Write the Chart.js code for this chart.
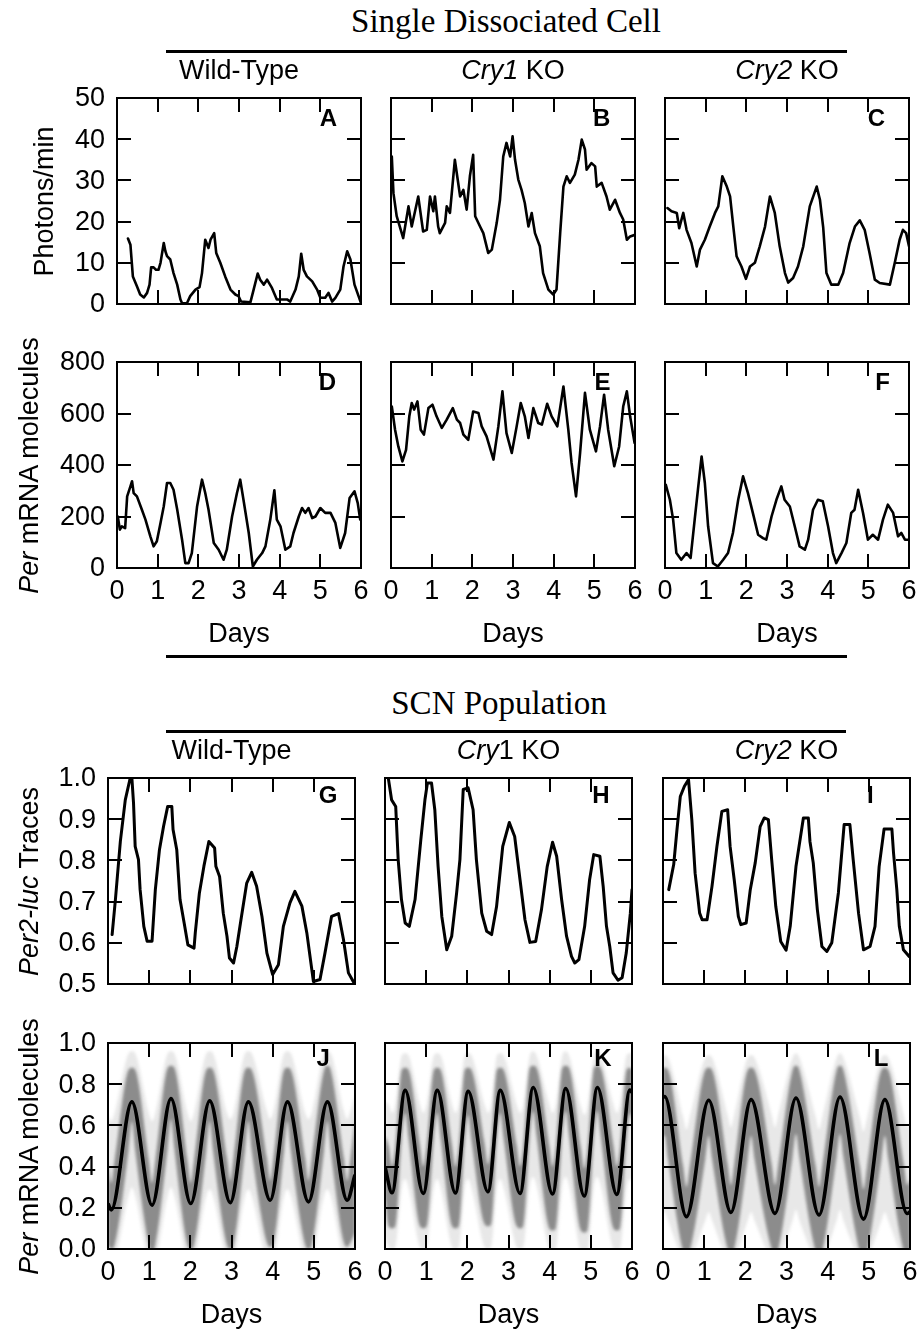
<!DOCTYPE html>
<html><head><meta charset="utf-8">
<script src="https://cdn.jsdelivr.net/npm/chart.js@4.4.1/dist/chart.umd.min.js"></script>
<style>
html,body{margin:0;padding:0;background:#fff;}
#fig{position:relative;width:919px;height:1332px;overflow:hidden;background:#fff;color:#000;}
#fig canvas{position:absolute;}
.t{position:absolute;white-space:nowrap;text-align:center;width:400px;color:#000;}
.rule{position:absolute;height:3px;background:#000;}
</style></head><body><div id="fig"></div>
<script>
// ---------------- DATA ----------------
const dayTicks = [0,1,2,3,4,5,6];
const photonTicks = [0,10,20,30,40,50];
const mrnaTicks = [0,200,400,600,800];
const lucTicks = [0.5,0.6,0.7,0.8,0.9,1.0];
const popTicks = [0.0,0.2,0.4,0.6,0.8,1.0];

// A: single cell, wild-type, photons/min
const cellWT_day = [0.27,0.33,0.39,0.49,0.57,0.66,0.74,0.80,0.84,0.90,0.96,1.02,1.07,1.15,1.19,1.23,1.31,1.39,1.48,1.56,1.60,1.72,1.80,1.93,2.03,2.09,2.17,2.25,2.30,2.39,2.44,2.54,2.66,2.79,2.91,2.99,3.05,3.28,3.36,3.46,3.52,3.61,3.69,3.81,3.93,4.18,4.26,4.39,4.47,4.53,4.59,4.67,4.80,4.92,5.00,5.12,5.20,5.29,5.37,5.49,5.57,5.66,5.74,5.84,5.94,6.0];
const cellWT_photons = [15.9,14.4,6.7,4.3,2.3,1.6,2.7,4.7,8.9,8.9,8.3,8.3,10.0,14.8,12.8,11.6,10.8,7.5,4.7,1.1,0.2,0.2,1.9,3.5,4.1,7.5,15.6,13.6,15.6,17.2,12.4,10.0,6.7,3.5,2.3,1.9,0.6,0.4,3.5,7.4,5.9,4.7,5.9,3.9,1.1,1.1,0.6,3.5,6.7,12.2,8.3,6.7,5.5,3.5,1.5,1.5,2.7,0.6,1.5,3.5,9.1,12.8,10.8,4.7,1.9,0.2];

// B: single cell, Cry1 KO
const cellCry1_day = [0.02,0.06,0.14,0.30,0.43,0.51,0.67,0.79,0.88,0.96,1.04,1.08,1.16,1.20,1.33,1.37,1.45,1.57,1.70,1.78,1.86,1.94,2.02,2.07,2.19,2.27,2.39,2.48,2.60,2.68,2.76,2.84,2.93,2.99,3.05,3.13,3.21,3.29,3.38,3.46,3.54,3.66,3.74,3.87,3.99,4.07,4.16,4.24,4.32,4.40,4.52,4.61,4.69,4.77,4.81,4.93,5.02,5.06,5.18,5.30,5.38,5.51,5.63,5.71,5.80,5.88,6.0];
const cellCry1_photons = [35.8,26.9,21.3,16.0,23.7,18.8,26.1,17.6,18.0,26.1,22.5,26.1,18.8,17.2,19.7,23.7,22.1,35.0,26.1,27.7,22.9,31.0,36.2,21.3,18.8,17.2,12.4,13.2,19.7,25.3,35.8,39.1,35.8,40.7,35.0,30.2,27.7,24.5,18.8,22.1,17.2,14.0,7.5,3.5,2.3,3.5,17.2,28.5,31.0,29.4,31.4,35.0,39.9,37.5,32.6,34.2,33.4,28.5,29.4,26.1,22.9,25.3,22.1,20.5,15.6,16.4,16.8];

// C: single cell, Cry2 KO
const cellCry2_day = [0.06,0.16,0.29,0.35,0.45,0.53,0.65,0.78,0.86,0.98,1.10,1.23,1.31,1.41,1.52,1.60,1.68,1.76,1.88,1.99,2.09,2.21,2.33,2.46,2.58,2.70,2.82,2.95,3.03,3.15,3.27,3.40,3.56,3.73,3.81,3.89,3.97,4.09,4.26,4.38,4.54,4.67,4.79,4.91,5.03,5.16,5.28,5.53,5.65,5.77,5.85,5.93,6.0];
const cellCry2_photons = [23.3,22.5,22.1,18.4,22.1,18.0,14.8,9.1,13.2,15.6,18.8,22.1,23.7,31.0,28.5,26.1,18.8,11.6,9.1,6.1,9.1,10.0,14.0,18.8,26.1,22.1,14.0,7.5,5.2,6.3,9.1,14.0,23.7,28.5,25.3,18.6,7.5,4.7,4.7,7.5,14.8,18.8,20.3,18.0,12.4,5.9,5.1,4.7,10.0,15.6,18.0,17.2,14.0];

// D: single cell model, wild-type, Per mRNA molecules
const modelWT_day = [0.02,0.07,0.12,0.20,0.25,0.33,0.37,0.41,0.49,0.61,0.70,0.82,0.90,0.98,1.07,1.15,1.23,1.31,1.39,1.48,1.60,1.68,1.76,1.84,1.97,2.09,2.17,2.25,2.38,2.50,2.62,2.70,2.83,2.95,3.03,3.11,3.24,3.34,3.44,3.57,3.65,3.77,3.87,3.93,4.02,4.14,4.26,4.34,4.47,4.55,4.63,4.71,4.80,4.88,5.00,5.12,5.25,5.37,5.49,5.61,5.72,5.84,5.92,5.98];
const modelWT_per = [200,149,162,155,278,317,337,291,278,227,188,123,84,104,175,240,330,330,304,227,110,19,19,58,240,343,291,227,97,71,32,71,200,291,343,265,136,6,32,58,84,188,302,188,162,71,84,136,200,233,214,233,194,200,233,214,214,175,78,136,272,298,252,188];

// E: single cell model, Cry1 KO
const modelCry1_day = [0.02,0.10,0.18,0.28,0.37,0.45,0.51,0.57,0.65,0.73,0.81,0.92,1.02,1.12,1.25,1.37,1.52,1.62,1.70,1.78,1.90,2.02,2.15,2.23,2.35,2.52,2.64,2.74,2.84,2.97,3.09,3.19,3.29,3.38,3.50,3.62,3.71,3.84,3.95,4.09,4.24,4.36,4.44,4.55,4.65,4.77,4.89,5.04,5.14,5.24,5.34,5.49,5.61,5.71,5.80,5.88,5.99];
const modelCry1_per = [627,537,472,414,459,589,641,615,647,537,518,621,634,589,544,576,621,576,563,518,498,608,602,550,511,421,550,686,524,447,550,641,589,505,621,563,557,638,589,550,705,537,408,278,447,680,537,453,550,673,537,395,472,627,686,589,485];

// F: single cell model, Cry2 KO
const modelCry2_day = [0.02,0.12,0.20,0.28,0.40,0.53,0.63,0.73,0.81,0.90,0.98,1.06,1.18,1.30,1.43,1.55,1.67,1.80,1.92,2.04,2.16,2.29,2.41,2.49,2.62,2.74,2.86,2.94,3.07,3.19,3.31,3.44,3.52,3.64,3.76,3.88,4.01,4.13,4.21,4.34,4.46,4.58,4.66,4.75,4.87,4.99,5.11,5.24,5.36,5.48,5.61,5.73,5.81,5.90,5.98];
const modelCry2_per = [323,265,188,58,32,58,39,188,304,433,330,162,19,6,32,58,136,265,356,291,214,129,116,110,200,265,317,265,239,162,84,71,110,226,265,259,162,58,19,58,97,214,226,304,214,110,129,110,188,246,214,123,136,110,110];

// G: SCN population Per2-luc, wild-type
const scnWT_day = [0.10,0.18,0.30,0.42,0.54,0.58,0.62,0.66,0.74,0.78,0.87,0.95,1.07,1.15,1.25,1.35,1.45,1.55,1.58,1.67,1.75,1.85,1.94,2.09,2.12,2.22,2.33,2.45,2.59,2.62,2.71,2.80,2.89,2.95,3.05,3.13,3.23,3.37,3.49,3.61,3.74,3.86,4.00,4.14,4.26,4.42,4.54,4.71,4.83,4.99,5.15,5.27,5.43,5.60,5.72,5.84,5.98];
const scnWT_luc = [0.620,0.705,0.846,0.947,1.0,1.0,0.939,0.834,0.802,0.729,0.640,0.604,0.604,0.729,0.826,0.883,0.931,0.931,0.875,0.826,0.705,0.648,0.595,0.587,0.624,0.721,0.786,0.846,0.830,0.786,0.761,0.672,0.616,0.563,0.551,0.591,0.656,0.745,0.771,0.737,0.664,0.575,0.523,0.547,0.640,0.697,0.725,0.689,0.624,0.506,0.511,0.575,0.664,0.671,0.608,0.527,0.502];

// H: SCN population Per2-luc, Cry1 KO
const scnCry1_day = [0.08,0.16,0.26,0.32,0.40,0.49,0.59,0.73,0.87,0.97,1.03,1.13,1.21,1.29,1.38,1.50,1.62,1.74,1.82,1.90,2.02,2.14,2.22,2.35,2.47,2.59,2.71,2.86,3.02,3.15,3.28,3.40,3.52,3.66,3.80,3.94,4.07,4.17,4.29,4.41,4.53,4.61,4.71,4.85,4.97,5.07,5.22,5.30,5.38,5.46,5.54,5.66,5.76,5.86,5.96,6.0];
const scnCry1_luc = [1.0,0.947,0.931,0.802,0.705,0.648,0.640,0.705,0.850,0.947,0.988,0.988,0.923,0.785,0.664,0.583,0.616,0.721,0.802,0.972,0.976,0.923,0.802,0.672,0.628,0.620,0.688,0.834,0.892,0.858,0.753,0.656,0.601,0.603,0.680,0.785,0.844,0.810,0.705,0.616,0.567,0.551,0.559,0.640,0.753,0.814,0.810,0.737,0.640,0.591,0.527,0.509,0.515,0.575,0.672,0.729];

// I: SCN population Per2-luc, Cry2 KO
const scnCry2_day = [0.14,0.26,0.34,0.42,0.52,0.62,0.70,0.78,0.89,0.95,1.07,1.19,1.31,1.43,1.57,1.63,1.73,1.83,1.89,2.02,2.12,2.24,2.36,2.46,2.56,2.64,2.74,2.86,2.99,3.09,3.23,3.41,3.53,3.57,3.65,3.75,3.86,3.98,4.10,4.26,4.40,4.54,4.62,4.75,4.87,5.03,5.15,5.25,5.37,5.56,5.60,5.68,5.74,5.84,5.98];
const scnCry2_luc = [0.729,0.790,0.875,0.955,0.980,0.996,0.899,0.769,0.672,0.656,0.656,0.737,0.834,0.919,0.923,0.834,0.753,0.664,0.644,0.648,0.729,0.794,0.882,0.903,0.899,0.802,0.688,0.603,0.582,0.640,0.785,0.903,0.903,0.846,0.794,0.680,0.591,0.579,0.600,0.721,0.887,0.887,0.802,0.672,0.583,0.591,0.640,0.785,0.876,0.876,0.818,0.729,0.640,0.583,0.567];

// J: SCN model, wild-type. Population mean (black line) ...
const popWT_day    = [0,0.08,0.58,1.07,1.53,2.01,2.47,2.97,3.41,3.94,4.36,4.87,5.33,5.81,6.0];
const popWT_mean   = [0.22,0.19,0.714,0.213,0.73,0.221,0.719,0.225,0.714,0.237,0.714,0.229,0.714,0.237,0.36];
// ... and read-off upper/lower edges of the grey cloud of single-cell traces (dense core, faint haze)
const popWT_bandDay = [0,0.08,0.16, 0.50,0.58,0.66, 0.99,1.07,1.15, 1.45,1.53,1.61, 1.93,2.01,2.09, 2.39,2.47,2.55, 2.89,2.97,3.05, 3.33,3.41,3.49, 3.86,3.94,4.02, 4.28,4.36,4.44, 4.79,4.87,4.95, 5.25,5.33,5.41, 5.73,5.81,5.89, 6.0];
const popWT_coreHi = [0.43,0.32,0.43, 0.87,0.88,0.87, 0.43,0.32,0.43, 0.88,0.89,0.88, 0.43,0.32,0.43, 0.87,0.88,0.87, 0.44,0.33,0.44, 0.87,0.88,0.87, 0.44,0.33,0.44, 0.87,0.88,0.87, 0.44,0.33,0.44, 0.87,0.89,0.87, 0.44,0.33,0.44, 0.64];
const popWT_coreLo = [0.02,0.00,0.02, 0.48,0.62,0.48, 0.02,-0.01,0.02, 0.49,0.63,0.49, 0.02,0.00,0.02, 0.48,0.62,0.48, 0.02,0.00,0.02, 0.48,0.62,0.48, 0.03,0.01,0.03, 0.48,0.62,0.48, 0.02,0.00,0.02, 0.48,0.62,0.48, 0.03,0.01,0.03, 0.08];
const popWT_hazeHi = [0.65,0.62,0.66, 0.95,0.96,0.95, 0.66,0.62,0.66, 0.95,0.96,0.95, 0.66,0.62,0.66, 0.95,0.96,0.95, 0.66,0.63,0.66, 0.95,0.96,0.95, 0.67,0.63,0.67, 0.95,0.96,0.95, 0.66,0.63,0.66, 0.95,0.96,0.95, 0.67,0.63,0.67, 0.75];
const popWT_hazeLo = [-0.05,-0.06,-0.05, 0.26,0.30,0.26, -0.05,-0.06,-0.05, 0.26,0.30,0.26, -0.05,-0.06,-0.05, 0.26,0.29,0.26, -0.05,-0.06,-0.05, 0.26,0.29,0.26, -0.05,-0.06,-0.05, 0.26,0.29,0.26, -0.05,-0.06,-0.05, 0.26,0.29,0.26, -0.05,-0.06,-0.05, 0.02];

// K: SCN model, Cry1 KO
const popCry1_day    = [0,0.17,0.49,0.93,1.27,1.71,2.02,2.50,2.80,3.28,3.60,4.07,4.39,4.84,5.16,5.63,5.95,6.0];
const popCry1_mean   = [0.40,0.273,0.77,0.27,0.77,0.272,0.765,0.278,0.77,0.27,0.784,0.267,0.779,0.257,0.784,0.265,0.772,0.76];
const popCry1_bandDay = [0, 0.09,0.17,0.25, 0.41,0.49,0.57, 0.85,0.93,1.01, 1.19,1.27,1.35, 1.63,1.71,1.79, 1.94,2.02,2.10, 2.42,2.50,2.58, 2.72,2.80,2.88, 3.20,3.28,3.36, 3.52,3.60,3.68, 3.99,4.07,4.15, 4.31,4.39,4.47, 4.76,4.84,4.92, 5.08,5.16,5.24, 5.55,5.63,5.71, 5.87,5.95, 6.0];
const popCry1_coreHi = [0.55, 0.50,0.40,0.50, 0.87,0.88,0.87, 0.50,0.40,0.50, 0.87,0.88,0.87, 0.50,0.40,0.50, 0.87,0.88,0.87, 0.51,0.41,0.51, 0.87,0.88,0.87, 0.50,0.40,0.50, 0.88,0.89,0.88, 0.50,0.40,0.50, 0.88,0.89,0.88, 0.49,0.39,0.49, 0.88,0.89,0.88, 0.50,0.40,0.50, 0.87,0.88, 0.87];
const popCry1_coreLo = [0.25, 0.11,0.10,0.11, 0.54,0.66,0.54, 0.11,0.10,0.11, 0.54,0.66,0.54, 0.11,0.10,0.11, 0.53,0.65,0.53, 0.12,0.11,0.12, 0.54,0.66,0.54, 0.11,0.10,0.11, 0.55,0.67,0.55, 0.10,0.09,0.10, 0.55,0.67,0.55, 0.09,0.08,0.09, 0.55,0.67,0.55, 0.10,0.09,0.10, 0.54,0.66, 0.62];
const popCry1_hazeHi = [0.72, 0.70,0.66,0.70, 0.94,0.95,0.94, 0.70,0.66,0.70, 0.94,0.95,0.94, 0.70,0.66,0.70, 0.94,0.95,0.94, 0.70,0.66,0.70, 0.94,0.95,0.94, 0.70,0.66,0.70, 0.94,0.96,0.94, 0.70,0.66,0.70, 0.94,0.96,0.94, 0.69,0.65,0.69, 0.94,0.96,0.94, 0.70,0.66,0.70, 0.94,0.95, 0.95];
const popCry1_hazeLo = [0.06, 0.01,0.00,0.01, 0.30,0.34,0.30, 0.01,0.00,0.01, 0.30,0.34,0.30, 0.01,0.00,0.01, 0.30,0.34,0.30, 0.01,0.00,0.01, 0.30,0.34,0.30, 0.01,0.00,0.01, 0.31,0.35,0.31, 0.00,-0.01,0.00, 0.31,0.35,0.31, -0.01,-0.02,-0.01, 0.31,0.35,0.31, 0.00,-0.01,0.00, 0.30,0.34, 0.33];

// L: SCN model, Cry2 KO
const popCry2_day    = [0,0.04,0.57,1.11,1.65,2.14,2.72,3.23,3.79,4.30,4.87,5.39,5.93,6.0];
const popCry2_mean   = [0.735,0.74,0.157,0.722,0.178,0.725,0.173,0.733,0.165,0.738,0.145,0.725,0.172,0.18];
const popCry2_bandDay = [0,0.04,0.12, 0.49,0.57,0.65, 1.03,1.11,1.19, 1.57,1.65,1.73, 2.06,2.14,2.22, 2.64,2.72,2.80, 3.15,3.23,3.31, 3.71,3.79,3.87, 4.22,4.30,4.38, 4.79,4.87,4.95, 5.31,5.39,5.47, 5.85,5.93, 6.0];
const popCry2_coreHi = [0.88,0.88,0.87, 0.40,0.30,0.40, 0.87,0.88,0.87, 0.41,0.31,0.41, 0.87,0.88,0.87, 0.41,0.31,0.41, 0.87,0.89,0.87, 0.40,0.30,0.40, 0.87,0.89,0.87, 0.39,0.29,0.39, 0.87,0.88,0.87, 0.41,0.31, 0.34];
const popCry2_coreLo = [0.55,0.55,0.44, -0.01,-0.03,-0.01, 0.44,0.55,0.44, 0.00,-0.02,0.00, 0.44,0.55,0.44, 0.00,-0.02,0.00, 0.45,0.56,0.45, -0.01,-0.03,-0.01, 0.45,0.56,0.45, -0.02,-0.04,-0.02, 0.44,0.55,0.44, -0.01,-0.03, -0.01];
const popCry2_hazeHi = [0.94,0.94,0.93, 0.64,0.58,0.64, 0.93,0.94,0.93, 0.65,0.59,0.65, 0.93,0.94,0.93, 0.65,0.59,0.65, 0.93,0.95,0.93, 0.64,0.58,0.64, 0.93,0.95,0.93, 0.63,0.57,0.63, 0.93,0.94,0.93, 0.65,0.59, 0.61];
const popCry2_hazeLo = [0.18,0.18,0.14, -0.05,-0.06,-0.05, 0.14,0.18,0.14, -0.05,-0.06,-0.05, 0.14,0.18,0.14, -0.05,-0.06,-0.05, 0.14,0.19,0.14, -0.05,-0.06,-0.05, 0.14,0.19,0.14, -0.05,-0.06,-0.05, 0.14,0.18,0.14, -0.05,-0.06, -0.05];

// ---------------- RENDERING ----------------
const fig = document.getElementById('fig');
const SANS = '"Liberation Sans", Arial, Helvetica, sans-serif';
const SERIF = '"Liberation Serif", "Times New Roman", serif';

function addText(html, cx, baseline, size, opts) {
  opts = opts || {};
  const d = document.createElement('div');
  d.className = 't';
  const asc = opts.serif ? 0.8375 : 0.8465;
  d.style.fontFamily = opts.serif ? SERIF : SANS;
  d.style.fontSize = size + 'px';
  d.style.fontWeight = opts.bold ? 'bold' : 'normal';
  d.style.lineHeight = size + 'px';
  d.style.left = (cx - 200) + 'px';
  d.style.top = (baseline - asc * size) + 'px';
  d.innerHTML = html;
  fig.appendChild(d);
}
function addVText(html, cx, cy, size) {
  const d = document.createElement('div');
  d.className = 't';
  d.style.fontFamily = SANS;
  d.style.fontSize = size + 'px';
  d.style.lineHeight = size + 'px';
  d.style.height = size + 'px';
  d.style.left = (cx - 200) + 'px';
  d.style.top = (cy - size / 2) + 'px';
  d.style.transform = 'rotate(-90deg)';
  d.innerHTML = html;
  fig.appendChild(d);
}
function addRule(x1, x2, y) {
  const d = document.createElement('div');
  d.className = 'rule';
  d.style.left = x1 + 'px';
  d.style.width = (x2 - x1) + 'px';
  d.style.top = y + 'px';
  fig.appendChild(d);
}

// frame, inward tick marks on all four sides and y tick labels, placed through the chart's scales
const frameTicks = {
  id: 'frameTicks',
  afterDraw(chart, args, opts) {
    const {ctx, chartArea: a} = chart;
    const x = chart.scales.x, y = chart.scales.y;
    ctx.save();
    ctx.filter = 'none';
    ctx.strokeStyle = '#000';
    ctx.lineWidth = 2;
    ctx.beginPath();
    x.ticks.forEach(t => {
      const px = Math.round(x.getPixelForValue(t.value));
      ctx.moveTo(px, a.top); ctx.lineTo(px, a.top + 14);
      ctx.moveTo(px, a.bottom); ctx.lineTo(px, a.bottom - 14);
    });
    y.ticks.forEach(t => {
      const py = Math.round(y.getPixelForValue(t.value));
      ctx.moveTo(a.left, py); ctx.lineTo(a.left + 14, py);
      ctx.moveTo(a.right, py); ctx.lineTo(a.right - 14, py);
    });
    ctx.stroke();
    ctx.strokeRect(a.left, a.top, a.right - a.left, a.bottom - a.top);
    if (opts.yLabels) {
      ctx.fillStyle = '#000';
      ctx.font = '27px ' + SANS;
      ctx.textAlign = 'right';
      ctx.textBaseline = 'middle';
      y.ticks.forEach(t => {
        const txt = opts.fmt ? Number(t.value).toFixed(opts.fmt) : String(Math.round(t.value));
        ctx.fillText(txt, a.left - 12, y.getPixelForValue(t.value) + 1);
      });
    }
    ctx.restore();
  }
};
// soft edges for the grey cloud (not applied to the mean line, dataset 0)
const softBands = {
  id: 'softBands',
  beforeDatasetsDraw(chart, args, opts) { if (opts.on) chart.ctx.filter = 'blur(1.5px)'; },
  beforeDatasetDraw(chart, args) { if (args.index === 0) chart.ctx.filter = 'none'; },
  afterDatasetsDraw(chart) { chart.ctx.filter = 'none'; }
};

const tickFont = {family: SANS, size: 27};
function pts(xs, ys) { const n = Math.min(xs.length, ys.length); const o = []; for (let i = 0; i < n; i++) o.push({x: xs[i], y: ys[i]}); return o; }
function traceDS(xs, ys, w) {
  return {data: pts(xs, ys), borderColor: '#000', borderWidth: w, pointRadius: 0, tension: 0, fill: false, borderJoinStyle: 'round', borderCapStyle: 'round'};
}
function meanDS(xs, ys) {
  return {data: pts(xs, ys), borderColor: '#000', borderWidth: 3.6, pointRadius: 0, cubicInterpolationMode: 'monotone', fill: false};
}
function bandDS(xs, ys, color, fill) {
  return {data: pts(xs, ys), borderWidth: 0, borderColor: 'rgba(0,0,0,0)', backgroundColor: color, pointRadius: 0, cubicInterpolationMode: 'monotone', fill: fill};
}
function popDatasets(xs, mean, bx, cHi, cLo, hHi, hLo) {
  return [
    meanDS(xs, mean),
    bandDS(bx, cHi, 'rgba(128,128,128,0.88)', '+1'),
    bandDS(bx, cLo, 'rgba(0,0,0,0)', false),
    bandDS(bx, hHi, 'rgba(150,150,150,0.22)', '+1'),
    bandDS(bx, hLo, 'rgba(0,0,0,0)', false)
  ];
}

function makePanel(p) {
  const ML = 70, MR = 20, MT = 20, MB = 50;
  const W = p.w + ML + MR, H = p.h + MT + MB;
  const c = document.createElement('canvas');
  c.width = W; c.height = H;
  c.style.left = (p.left - ML) + 'px';
  c.style.top = (p.top - MT) + 'px';
  c.style.width = W + 'px'; c.style.height = H + 'px';
  fig.appendChild(c);
  new Chart(c, {
    type: 'line',
    data: {datasets: p.datasets},
    options: {
      responsive: false, animation: false, devicePixelRatio: 1,
      layout: {padding: {left: 0, right: MR, top: MT, bottom: 0}},
      plugins: {legend: {display: false}, tooltip: {enabled: false},
                frameTicks: {yLabels: p.yLabels, fmt: p.fmt}, softBands: {on: !!p.soft}},
      scales: {
        x: {type: 'linear', min: 0, max: 6,
            afterBuildTicks: s => { s.ticks = dayTicks.map(v => ({value: v})); },
            ticks: {display: p.xLabels, padding: 7, autoSkip: false, maxRotation: 0, font: tickFont, color: '#000'},
            grid: {display: false, drawTicks: false}, border: {display: false},
            afterFit: s => { s.height = MB; }},
        y: {type: 'linear', min: p.yTicks[0], max: p.yTicks[p.yTicks.length - 1],
            afterBuildTicks: s => { s.ticks = p.yTicks.map(v => ({value: v})); },
            ticks: {display: false},
            grid: {display: false, drawTicks: false}, border: {display: false},
            afterFit: s => { s.width = ML; }}
      }
    },
    plugins: [softBands, frameTicks]
  });
}

const topCols = [117, 391, 665], topW = 244;
const botCols = [108, 385, 663], botW = 247;
const rowTop = [98, 362, 778, 1043], rowH = 206;

// Row 1
makePanel({left: topCols[0], top: rowTop[0], w: topW, h: rowH, yTicks: photonTicks, yLabels: true, xLabels: false, datasets: [traceDS(cellWT_day, cellWT_photons, 2.6)]});
makePanel({left: topCols[1], top: rowTop[0], w: topW, h: rowH, yTicks: photonTicks, yLabels: false, xLabels: false, datasets: [traceDS(cellCry1_day, cellCry1_photons, 2.6)]});
makePanel({left: topCols[2], top: rowTop[0], w: topW, h: rowH, yTicks: photonTicks, yLabels: false, xLabels: false, datasets: [traceDS(cellCry2_day, cellCry2_photons, 2.6)]});
// Row 2
makePanel({left: topCols[0], top: rowTop[1], w: topW, h: rowH, yTicks: mrnaTicks, yLabels: true, xLabels: true, datasets: [traceDS(modelWT_day, modelWT_per, 2.6)]});
makePanel({left: topCols[1], top: rowTop[1], w: topW, h: rowH, yTicks: mrnaTicks, yLabels: false, xLabels: true, datasets: [traceDS(modelCry1_day, modelCry1_per, 2.6)]});
makePanel({left: topCols[2], top: rowTop[1], w: topW, h: rowH, yTicks: mrnaTicks, yLabels: false, xLabels: true, datasets: [traceDS(modelCry2_day, modelCry2_per, 2.6)]});
// Row 3
makePanel({left: botCols[0], top: rowTop[2], w: botW, h: rowH, yTicks: lucTicks, fmt: 1, yLabels: true, xLabels: false, datasets: [traceDS(scnWT_day, scnWT_luc, 3)]});
makePanel({left: botCols[1], top: rowTop[2], w: botW, h: rowH, yTicks: lucTicks, fmt: 1, yLabels: false, xLabels: false, datasets: [traceDS(scnCry1_day, scnCry1_luc, 3)]});
makePanel({left: botCols[2], top: rowTop[2], w: botW, h: rowH, yTicks: lucTicks, fmt: 1, yLabels: false, xLabels: false, datasets: [traceDS(scnCry2_day, scnCry2_luc, 3)]});
// Row 4
makePanel({left: botCols[0], top: rowTop[3], w: botW, h: rowH, yTicks: popTicks, fmt: 1, yLabels: true, xLabels: true, soft: true,
  datasets: popDatasets(popWT_day, popWT_mean, popWT_bandDay, popWT_coreHi, popWT_coreLo, popWT_hazeHi, popWT_hazeLo)});
makePanel({left: botCols[1], top: rowTop[3], w: botW, h: rowH, yTicks: popTicks, fmt: 1, yLabels: false, xLabels: true, soft: true,
  datasets: popDatasets(popCry1_day, popCry1_mean, popCry1_bandDay, popCry1_coreHi, popCry1_coreLo, popCry1_hazeHi, popCry1_hazeLo)});
makePanel({left: botCols[2], top: rowTop[3], w: botW, h: rowH, yTicks: popTicks, fmt: 1, yLabels: false, xLabels: true, soft: true,
  datasets: popDatasets(popCry2_day, popCry2_mean, popCry2_bandDay, popCry2_coreHi, popCry2_coreLo, popCry2_hazeHi, popCry2_hazeLo)});

// ---------------- TEXT ----------------
addText('Single Dissociated Cell', 506, 33, 33, {serif: true});
addRule(166, 847, 50);
addText('Wild-Type', 239, 80, 27);
addText('<i>Cry1</i> KO', 513, 80, 27);
addText('<i>Cry2</i> KO', 787, 80, 27);
addVText('Photons/min', 44, 201, 27);
addVText('<i>Per</i> mRNA molecules', 29, 465, 27);
addText('Days', 239, 643, 27);
addText('Days', 513, 643, 27);
addText('Days', 787, 643, 27);
addRule(166, 847, 655);

addText('SCN Population', 499, 715, 33, {serif: true});
addRule(166, 846, 730);
addText('Wild-Type', 231.5, 760, 27);
addText('<i>Cry</i>1 KO', 508.5, 760, 27);
addText('<i>Cry2</i> KO', 786.5, 760, 27);
addVText('<i>Per2-luc</i> Traces', 29, 881, 27);
addVText('<i>Per</i> mRNA molecules', 29, 1146, 27);
addText('Days', 231.5, 1324, 27);
addText('Days', 508.5, 1324, 27);
addText('Days', 786.5, 1324, 27);

const letters = [['A',328.5,126],['B',601.7,126],['C',876.5,126],['D',327.5,390],['E',602.5,390],['F',882.5,390],
                 ['G',328,803],['H',601,803],['I',870.3,803],['J',323.3,1066],['K',603,1066],['L',881,1066]];
letters.forEach(l => addText(l[0], l[1], l[2], 24, {bold: true}));
</script>
</body></html>
